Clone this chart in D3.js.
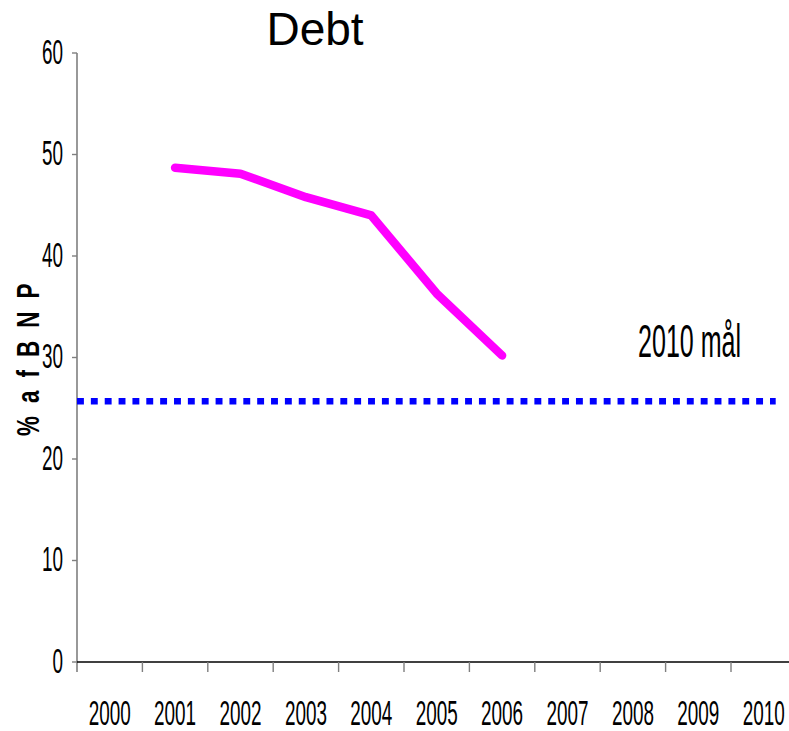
<!DOCTYPE html>
<html>
<head>
<meta charset="utf-8">
<script src="https://cdn.jsdelivr.net/npm/d3@7"></script>
<style>
  html, body { margin: 0; padding: 0; background: #fff; }
  svg { display: block; }
  text { font-family: "Liberation Sans", Arial, sans-serif; fill: #000; }
</style>
</head>
<body>
<svg id="chart" width="789" height="731"></svg>
<script>
// Gross debt, % of GDP
const years = ["2000", "2001", "2002", "2003", "2004", "2005", "2006", "2007", "2008", "2009", "2010"];
const debtYears = ["2001", "2002", "2003", "2004", "2005", "2006"];
const debtValues = [48.7, 48.1, 45.8, 44.0, 36.3, 30.2];
const targetValue = 25.7;
const yTicks = [0, 10, 20, 30, 40, 50, 60];
const titleText = "Debt";
const targetLabel = "2010 mål";
const yLabel = "% a f B N P";

const svg = d3.select("#chart");
const plotLeft = 77, plotTop = 53, plotBottom = 662, band = 65.4;
const narrow = 0.54; // condensed look of the axis lettering

const x = d3.scaleBand().domain(years).range([plotLeft, plotLeft + band * years.length]).padding(0);
const y = d3.scaleLinear().domain([0, 60]).range([plotBottom, plotTop]);

// y axis: grey line and ticks, condensed labels
const yAxis = svg.append("g");
yAxis.append("line")
  .attr("x1", plotLeft).attr("x2", plotLeft)
  .attr("y1", y(60)).attr("y2", y(0) + 10)
  .attr("stroke", "#7f7f7f").attr("stroke-width", 1.6);
yAxis.selectAll("line.tick").data(yTicks).join("line")
  .attr("class", "tick")
  .attr("x1", plotLeft - 5).attr("x2", plotLeft)
  .attr("y1", d => y(d)).attr("y2", d => y(d))
  .attr("stroke", "#7f7f7f").attr("stroke-width", 1.4);
yAxis.selectAll("text").data(yTicks).join("text")
  .attr("text-anchor", "end")
  .attr("font-size", 35)
  .attr("transform", d => `translate(${plotLeft - 14},${y(d) + 10.5}) scale(${narrow},1)`)
  .text(d => d);

// x axis: black baseline, grey ticks between categories
const xAxis = svg.append("g");
xAxis.append("line")
  .attr("x1", plotLeft).attr("x2", x.range()[1])
  .attr("y1", y(0)).attr("y2", y(0))
  .attr("stroke", "#000").attr("stroke-width", 1.6);
xAxis.selectAll("line.tick").data(years.slice(1)).join("line")
  .attr("class", "tick")
  .attr("x1", d => x(d)).attr("x2", d => x(d))
  .attr("y1", y(0)).attr("y2", y(0) + 10)
  .attr("stroke", "#7f7f7f").attr("stroke-width", 1.4);
xAxis.selectAll("text").data(years).join("text")
  .attr("text-anchor", "middle")
  .attr("font-size", 35)
  .attr("transform", d => `translate(${x(d) + x.bandwidth() / 2},${y(0) + 63}) scale(${narrow},1)`)
  .text(d => d);

// 2010 target: dotted blue line
svg.append("line")
  .attr("x1", plotLeft)
  .attr("x2", x("2010") + x.bandwidth() / 2 + 12)
  .attr("y1", y(targetValue)).attr("y2", y(targetValue))
  .attr("stroke", "#0000ff")
  .attr("stroke-width", 6.5)
  .attr("stroke-dasharray", "6.9,6.96");

// debt path
const line = d3.line()
  .x((d, i) => x(debtYears[i]) + x.bandwidth() / 2)
  .y(d => y(d));
svg.append("path")
  .datum(debtValues)
  .attr("d", line)
  .attr("fill", "none")
  .attr("stroke", "#ff00ff")
  .attr("stroke-width", 8.5)
  .attr("stroke-linecap", "round")
  .attr("stroke-linejoin", "round");

// title
svg.append("text")
  .attr("x", 315).attr("y", 45)
  .attr("text-anchor", "middle")
  .attr("font-size", 46)
  .text(titleText);

// target label
svg.append("text")
  .attr("font-size", 46)
  .attr("transform", `translate(638,${y(targetValue) - 44}) scale(0.545,1)`)
  .text(targetLabel);

// y axis title
svg.append("text")
  .attr("text-anchor", "middle")
  .attr("font-size", 32)
  .attr("font-weight", "bold")
  .attr("letter-spacing", 4.9)
  .attr("transform", "translate(39,358) rotate(-90) scale(0.7,1)")
  .text(yLabel);
</script>
</body>
</html>
